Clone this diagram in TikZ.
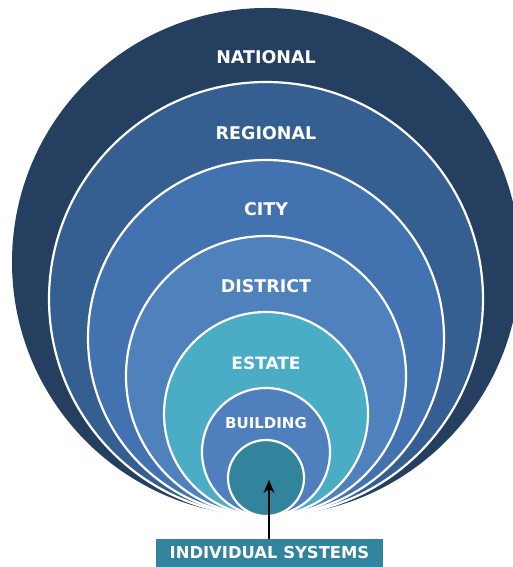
\documentclass[tikz,border=0pt]{standalone}
\usepackage{fontspec}
\setmainfont{DejaVu Sans}
\usetikzlibrary{arrows.meta}

\definecolor{national}{HTML}{243F60}
\definecolor{regional}{HTML}{365F91}
\definecolor{city}{HTML}{4272AF}
\definecolor{district}{HTML}{4F81BD}
\definecolor{estate}{HTML}{4BACC6}
\definecolor{building}{HTML}{4F7FBC}
\definecolor{systems}{HTML}{31849B}

\begin{document}
\begin{tikzpicture}[x=1bp,y=-1bp,
    ring/.style={draw=white,line width=2.2bp},
    level/.style={text=white,font=\bfseries\fontsize{17.5bp}{20bp}\selectfont}]

    % page and clipping
    \useasboundingbox (0,0) rectangle (513,567);
    \clip (0,0) rectangle (513,567);

    % nested circles, all touching at the bottom
    \fill[national] (266,262) circle[radius=254bp];
    \fill[regional,ring] (266,299) circle[radius=217bp];
    \fill[city,ring] (266,338) circle[radius=178bp];
    \fill[district,ring] (266,376) circle[radius=140bp];
    \fill[estate,ring] (266,414) circle[radius=102bp];
    \fill[building,ring] (266,452) circle[radius=64bp];
    \fill[systems,ring] (266,478) circle[radius=38bp];

    % level names
    \node[level] (nat) at (266,57) {NATIONAL};
    \node[level] (reg) at (266,133) {REGIONAL};
    \node[level] (cit) at (266,209) {CITY};
    \node[level] (dis) at (266,286) {DISTRICT};
    \node[level,font=\bfseries\fontsize{17bp}{20bp}\selectfont] (est) at (266,363) {ESTATE};
    \node[level,font=\bfseries\fontsize{15bp}{18bp}\selectfont] (bld) at (266,423) {BUILDING};

    % label box and arrow
    \node[fill=systems,text=white,font=\bfseries\fontsize{16.4bp}{19bp}\selectfont,
          minimum width=227bp,minimum height=28bp,inner sep=0pt] (sys) at (269.5,553) {INDIVIDUAL SYSTEMS};
    \coordinate (tip) at (269,480);
    \draw[line width=2.6bp,-{Stealth[length=13bp,width=11bp]}] (sys.north -| tip) -- (tip);

\end{tikzpicture}
\end{document}
